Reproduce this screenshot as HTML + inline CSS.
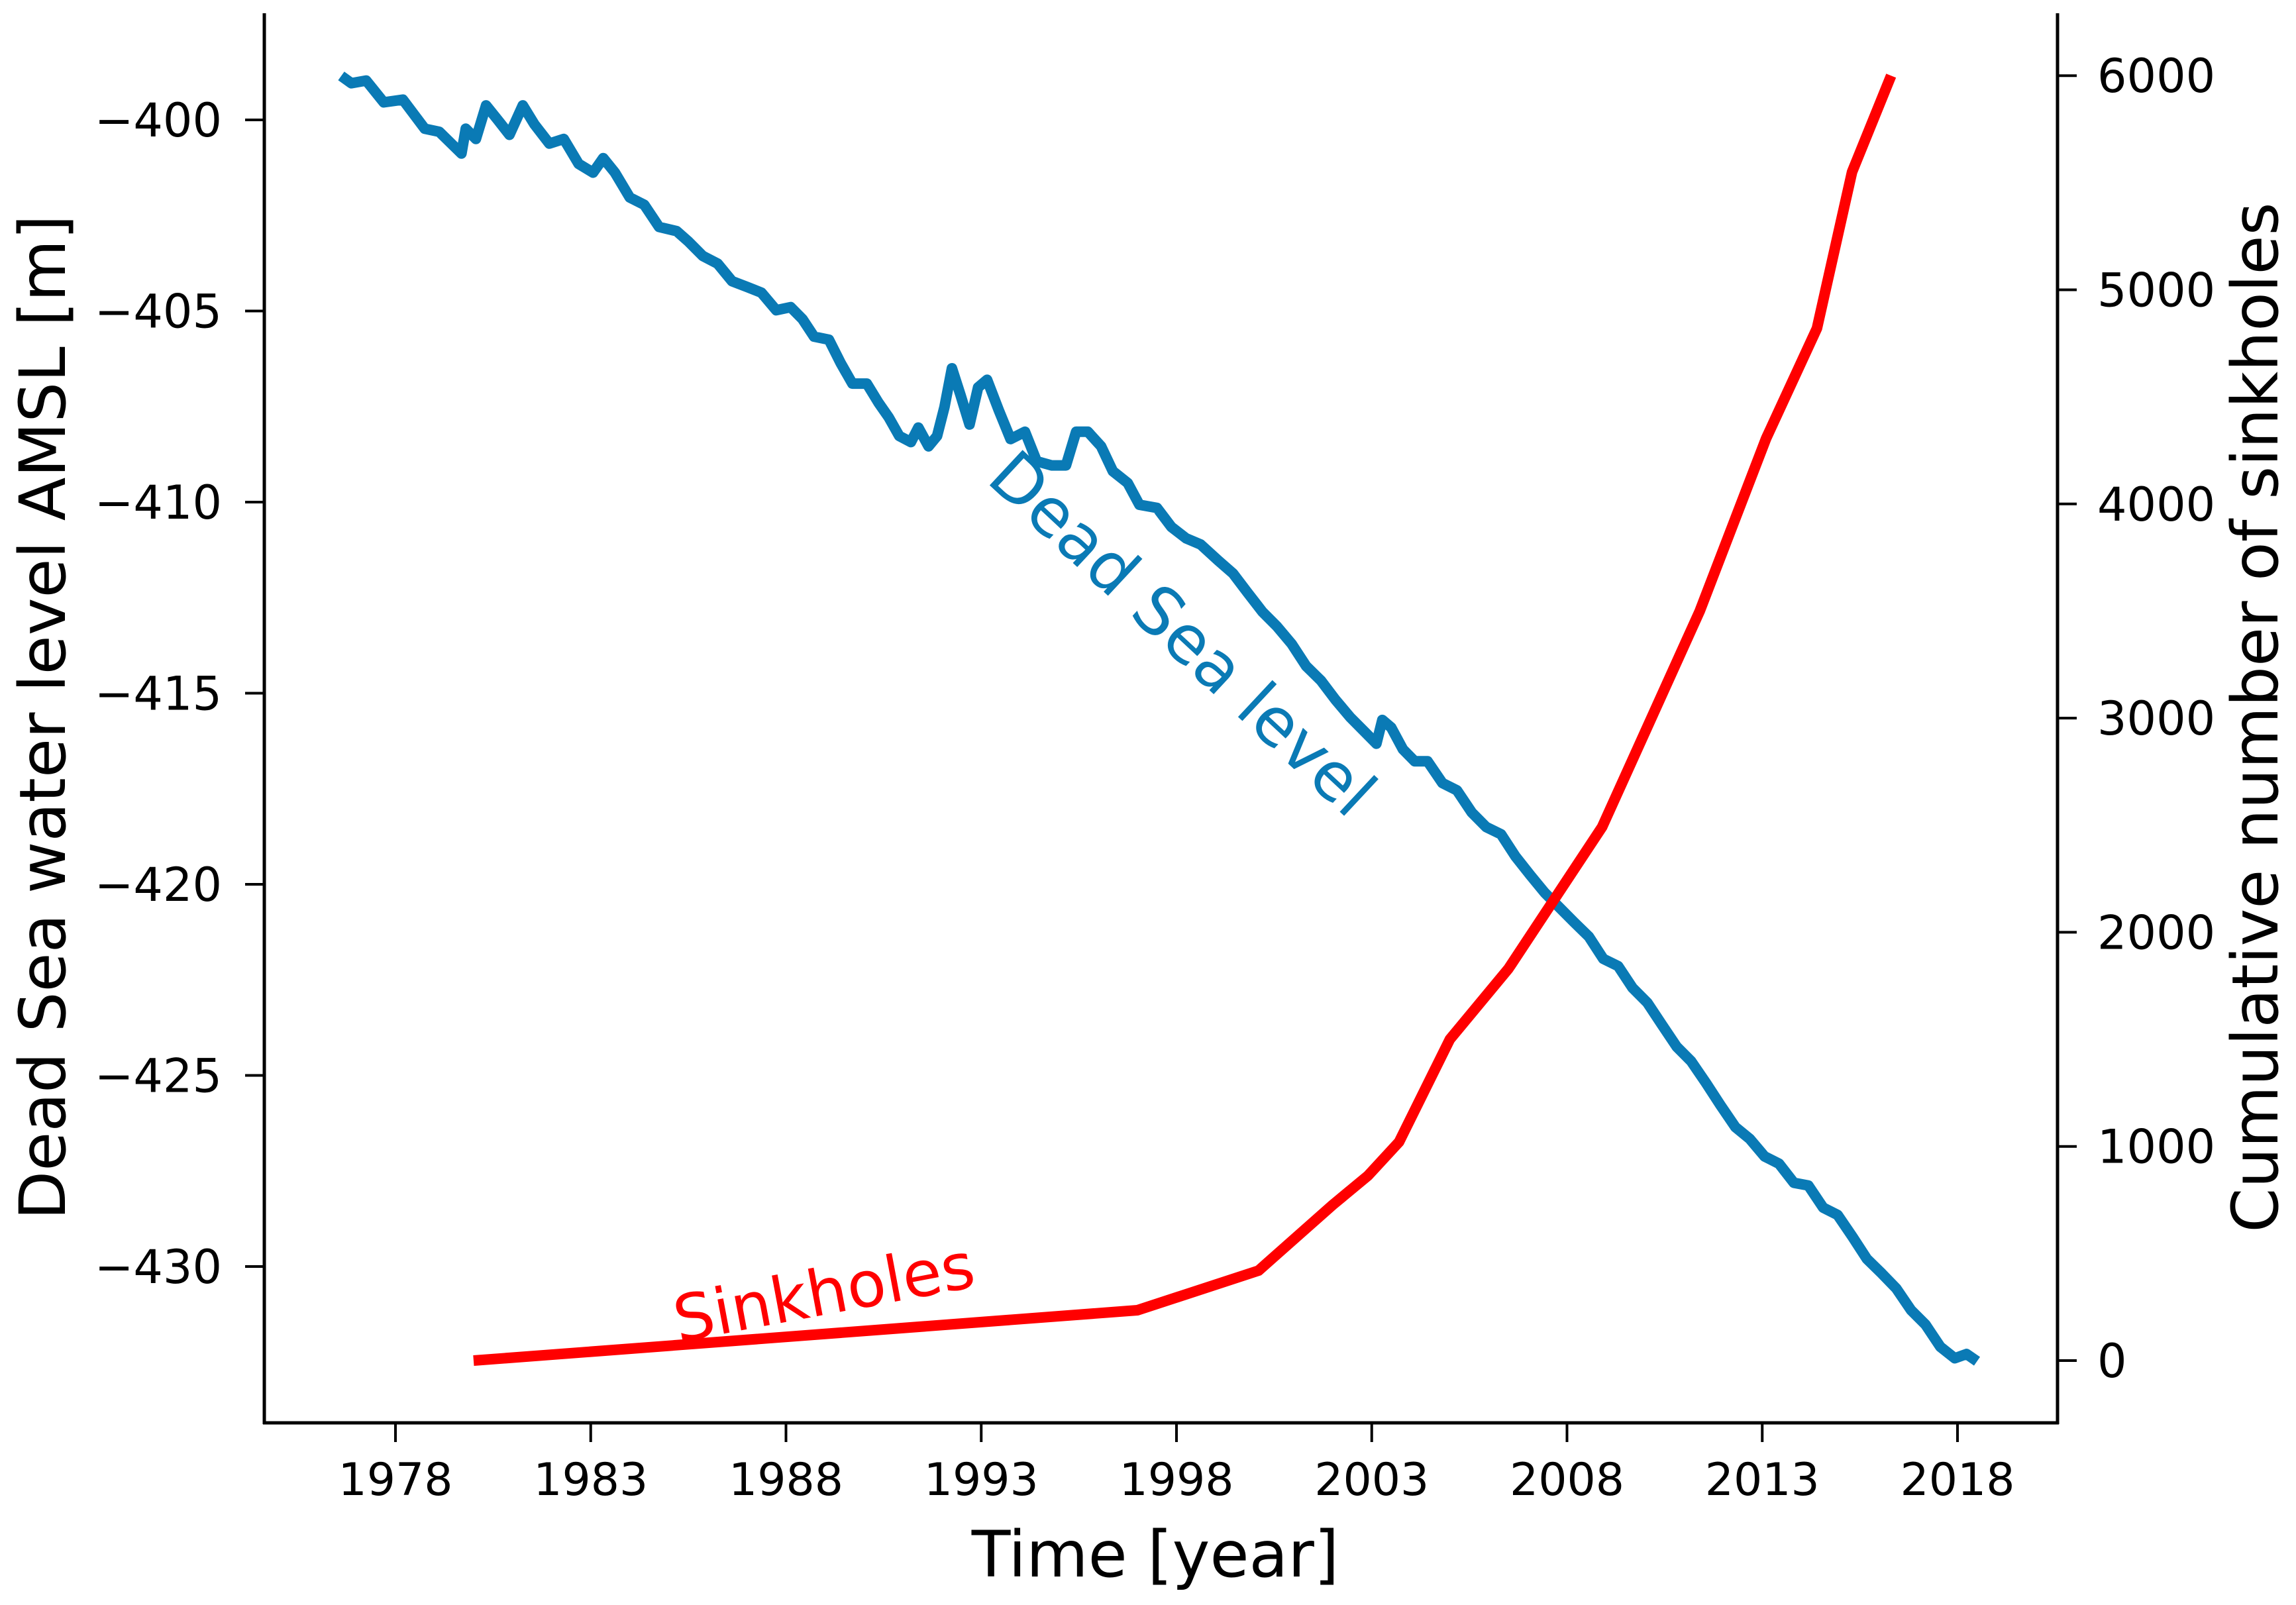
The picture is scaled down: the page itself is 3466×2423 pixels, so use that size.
<!DOCTYPE html>
<html><head><meta charset="utf-8"><style>
html,body{margin:0;padding:0;background:#fff;}
svg{display:block;font-family:"DejaVu Sans","Liberation Sans",sans-serif;}
</style></head><body>
<svg id="chart" width="3466" height="2423" viewBox="0 0 3466 2423" xmlns="http://www.w3.org/2000/svg">
<rect width="3466" height="2423" fill="#fff"/>
<g id="axes"></g>
<g id="series"></g>
<text x="0" y="0" transform="translate(98,1083) rotate(-90)" font-size="96" text-anchor="middle" fill="#000">Dead Sea water level AMSL [m]</text>
<text x="0" y="0" transform="translate(3438,1083) rotate(-90)" font-size="96" text-anchor="middle" fill="#000">Cumulative number of sinkholes</text>
<text x="1744" y="2380" font-size="96" text-anchor="middle" fill="#000">Time [year]</text>
<text x="0" y="0" transform="translate(1780,962) rotate(43)" font-size="100" text-anchor="middle" dominant-baseline="middle" fill="#0a7ab5">Dead Sea level</text>
<text x="0" y="0" transform="translate(1245,1958) rotate(-10.6)" font-size="96" text-anchor="middle" dominant-baseline="middle" fill="#ff0000">Sinkholes</text>
</svg>
<script>
const xTicks=[1978,1983,1988,1993,1998,2003,2008,2013,2018];
const leftTicks=[-400,-405,-410,-415,-420,-425,-430];
const rightTicks=[0,1000,2000,3000,4000,5000,6000];
const levelYears=[1976.61,1976.87,1977.25,1977.70,1978.19,1978.75,1979.12,1979.69,1979.80,1980.06,1980.32,1980.62,1980.92,1981.26,1981.56,1981.94,1982.31,1982.69,1983.06,1983.32,1983.62,1984.0,1984.37,1984.75,1985.2,1985.5,1985.87,1986.25,1986.62,1987.0,1987.37,1987.75,1988.12,1988.42,1988.72,1989.1,1989.4,1989.7,1990.07,1990.37,1990.63,1990.9,1991.2,1991.39,1991.65,1991.87,1992.06,1992.25,1992.47,1992.7,1992.92,1993.15,1993.45,1993.75,1994.12,1994.42,1994.8,1995.17,1995.43,1995.73,1996.07,1996.37,1996.75,1997.05,1997.5,1997.87,1998.25,1998.62,1999.07,1999.45,1999.82,2000.2,2000.57,2000.95,2001.32,2001.7,2002.07,2002.45,2002.82,2003.12,2003.27,2003.5,2003.8,2004.1,2004.43,2004.81,2005.18,2005.56,2005.93,2006.31,2006.68,2007.06,2007.43,2007.81,2008.18,2008.56,2008.93,2009.31,2009.68,2010.06,2010.43,2010.81,2011.18,2011.56,2011.93,2012.31,2012.68,2013.06,2013.43,2013.81,2014.18,2014.56,2014.93,2015.31,2015.68,2016.06,2016.43,2016.81,2017.18,2017.56,2017.93,2018.23,2018.5];
const levelValues=[-398.85,-399.04,-398.97,-399.54,-399.47,-400.23,-400.31,-400.88,-400.23,-400.5,-399.62,-400.0,-400.39,-399.62,-400.12,-400.62,-400.5,-401.15,-401.38,-401.0,-401.38,-402.03,-402.22,-402.8,-402.91,-403.18,-403.56,-403.76,-404.22,-404.37,-404.52,-404.98,-404.9,-405.21,-405.67,-405.75,-406.36,-406.9,-406.9,-407.4,-407.78,-408.27,-408.43,-408.05,-408.54,-408.27,-407.51,-406.5,-407.2,-407.97,-407.0,-406.8,-407.6,-408.35,-408.16,-408.93,-409.04,-409.04,-408.16,-408.16,-408.54,-409.19,-409.5,-410.07,-410.15,-410.65,-410.95,-411.11,-411.53,-411.87,-412.37,-412.87,-413.25,-413.71,-414.29,-414.67,-415.17,-415.63,-416.01,-416.32,-415.7,-415.9,-416.47,-416.78,-416.78,-417.35,-417.54,-418.12,-418.5,-418.69,-419.27,-419.76,-420.22,-420.61,-420.99,-421.37,-421.95,-422.14,-422.71,-423.1,-423.67,-424.25,-424.63,-425.2,-425.78,-426.35,-426.66,-427.12,-427.31,-427.81,-427.88,-428.46,-428.65,-429.22,-429.8,-430.18,-430.57,-431.14,-431.52,-432.1,-432.4,-432.29,-432.48];
const sinkYears=[1980,1997,2000.1,2002,2002.9,2003.7,2005,2006.5,2008.9,2011.4,2013.1,2014.4,2015.3,2016.3];
const sinkValues=[0,235,420,727,863,1021,1500,1830,2492,3500,4306,4820,5550,6000];

const NS='http://www.w3.org/2000/svg';
const X0=399,X1=3106,YT=20,YB=2148;
function xScale(yr){return 597+(yr-1978)*58.95;}
function yLeft(v){return 181+(-400-v)*57.7;}
function yRight(v){return 2054-v*0.3233;}
function mk(tag,attrs,parent){const e=document.createElementNS(NS,tag);for(const k in attrs)e.setAttribute(k,attrs[k]);parent.appendChild(e);return e;}
const axes=document.getElementById('axes');
const series=document.getElementById('series');

let l=mk('line',{x1:X0,y1:YT,x2:X0,y2:YB+2,stroke:'#000','stroke-width':5},axes);


l=mk('line',{x1:X1,y1:YT,x2:X1,y2:YB+2,stroke:'#000','stroke-width':5},axes);


l=mk('line',{x1:X0-2,y1:YB,x2:X1+2,y2:YB,stroke:'#000','stroke-width':5},axes);



xTicks.forEach(t=>{const x=xScale(t);
 const tk=mk('line',{x1:x,y1:YB,x2:x,y2:YB+29,stroke:'#000','stroke-width':4},axes);
 
 
 const tx=mk('text',{x:x,y:2257,'font-size':68,'text-anchor':'middle',fill:'#000'},axes);
 tx.textContent=String(t);
 
 
});
leftTicks.forEach(t=>{const y=yLeft(t);
 const tk=mk('line',{x1:X0-29,y1:y,x2:X0,y2:y,stroke:'#000','stroke-width':4},axes);
 
 
 const tx=mk('text',{x:335,y:y+25,'font-size':70,'text-anchor':'end',fill:'#000'},axes);
 tx.textContent='\u2212'+String(Math.abs(t));
 
 
});
rightTicks.forEach(t=>{const y=yRight(t);
 const tk=mk('line',{x1:X1,y1:y,x2:X1+29,y2:y,stroke:'#000','stroke-width':4},axes);
 
 
 const tx=mk('text',{x:3166,y:y+25,'font-size':70,'text-anchor':'start',fill:'#000'},axes);
 tx.textContent=String(t);
 
 
});

const lp=levelYears.map((yr,i)=>xScale(yr).toFixed(1)+','+yLeft(levelValues[i]).toFixed(1)).join(' ');
const lvl=mk('polyline',{points:lp,fill:'none',stroke:'#0a7ab5','stroke-width':16,'stroke-linejoin':'round'},series);


const sp=sinkYears.map((yr,i)=>xScale(yr).toFixed(1)+','+yRight(sinkValues[i]).toFixed(1)).join(' ');
const snk=mk('polyline',{points:sp,fill:'none',stroke:'#ff0000','stroke-width':16,'stroke-linejoin':'round'},series);


</script>
</body></html>
